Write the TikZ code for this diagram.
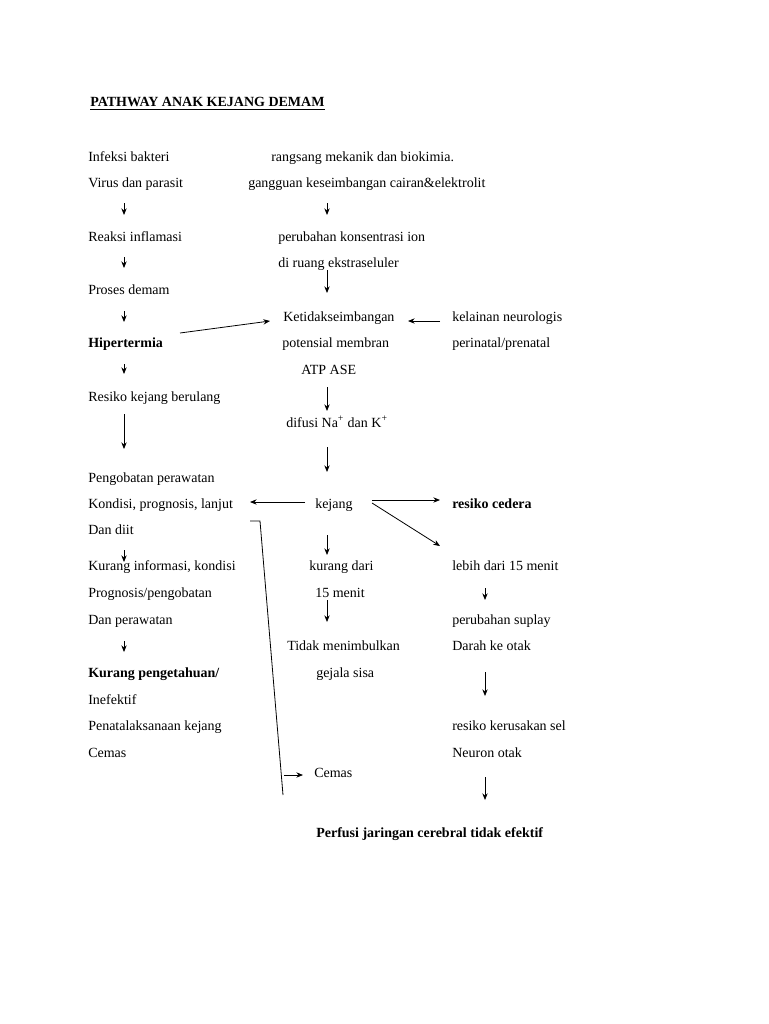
\documentclass[tikz,border=0pt]{standalone}
\usepackage{fontspec}
\setmainfont{Liberation Serif}
\usetikzlibrary{arrows.meta}
\begin{document}
\begin{tikzpicture}[x=0.75pt,y=-0.75pt,
  txt/.style={anchor=base west,inner sep=0pt,font=\fontsize{10.5}{12}\selectfont},
  bold/.style={txt,font=\fontsize{10.5}{12}\selectfont\bfseries},
  arr/.style={-{Stealth[length=5pt,width=4pt]},line width=0.6pt},
  ln/.style={line width=0.6pt}]
\useasboundingbox (0,0) rectangle (768,1024);

% title
\node[bold] (title) at (90,107) {\underline{PATHWAY ANAK KEJANG DEMAM}};

% left column
\node[txt] (infeksi) at (88,161) {Infeksi bakteri};
\node[txt] (virus) at (88,187) {Virus dan parasit};
\node[txt] (reaksi) at (88,241) {Reaksi inflamasi};
\node[txt] (proses) at (88,294) {Proses demam};
\node[bold] (hiper) at (88,347) {Hipertermia};
\node[txt] (resiko) at (88,401) {Resiko kejang berulang};
\node[txt] (pengobatan) at (88,482) {Pengobatan perawatan};
\node[txt] (kondisi) at (88,508) {Kondisi, prognosis, lanjut};
\node[txt] (diit) at (88,534) {Dan diit};
\node[txt] (kurang) at (88,570) {Kurang informasi, kondisi};
\node[txt] (prognosis) at (88,597) {Prognosis/pengobatan};
\node[txt] (danperawatan) at (88,624) {Dan perawatan};
\node[bold] (pengetahuan) at (88,677) {Kurang pengetahuan/};
\node[txt] (inefektif) at (88,704) {Inefektif};
\node[txt] (penatalaksanaan) at (88,730) {Penatalaksanaan kejang};
\node[txt] (cemasL) at (88,757) {Cemas};

% middle column
\node[txt] (rangsang) at (271,161) {rangsang mekanik dan biokimia.};
\node[txt] (gangguan) at (248,187) {gangguan keseimbangan cairan\&elektrolit};
\node[txt] (perubahan) at (278,241) {perubahan konsentrasi ion};
\node[txt] (ruang) at (278,267) {di ruang ekstraseluler};
\node[txt] (ketidak) at (283,321) {Ketidakseimbangan};
\node[txt] (potensial) at (282,347) {potensial membran};
\node[txt] (atp) at (301,374) {ATP ASE};
\node[txt] (difusi) at (286,427) {difusi Na\textsuperscript{+} dan K\textsuperscript{+}};
\node[txt] (kejang) at (315,508) {kejang};
\node[txt] (kurangdari) at (309,570) {kurang dari};
\node[txt] (menit) at (315,597) {15 menit};
\node[txt] (tidak) at (287,650) {Tidak menimbulkan};
\node[txt] (gejala) at (316,677) {gejala sisa};
\node[txt] (cemasM) at (314,777) {Cemas};
\node[bold] (perfusi) at (316,837) {Perfusi jaringan cerebral tidak efektif};

% right column
\node[txt] (kelainan) at (452,321) {kelainan neurologis};
\node[txt] (perinatal) at (452,347) {perinatal/prenatal};
\node[bold] (cedera) at (452,508) {resiko cedera};
\node[txt] (lebih) at (452,570) {lebih dari 15 menit};
\node[txt] (suplay) at (452,624) {perubahan suplay};
\node[txt] (darah) at (452,650) {Darah ke otak};
\node[txt] (kerusakan) at (452,730) {resiko kerusakan sel};
\node[txt] (neuron) at (452,757) {Neuron otak};

% vertical arrows
\foreach \y/\l in {203/12,257/11,311/11,364/10,414/35,550/12,641/11}
  \draw[arr] (124,\y) -- ++(0,\l);
\foreach \y/\l in {203/12,270/23,387/24,447/25,535/20,600/22}
  \draw[arr] (327,\y) -- ++(0,\l);
\foreach \y/\l in {588/12,672/24,777/23}
  \draw[arr] (485,\y) -- ++(0,\l);

% other connectors
\draw[arr] (180,333) -- (270,321);
\draw[arr] (440,321) -- (408,321);
\draw[arr] (305,502) -- (250,502);
\draw[arr] (372,500) -- (440,500);
\draw[arr] (372,503) -- (440,546);
\coordinate (hookA) at (250,521);
\coordinate (hookB) at (260,521);
\coordinate (hookC) at (283,795);
\draw[ln] (hookA) -- (hookB) -- (hookC);
\draw[arr] (284,775) -- (303,775);
\end{tikzpicture}
\end{document}
